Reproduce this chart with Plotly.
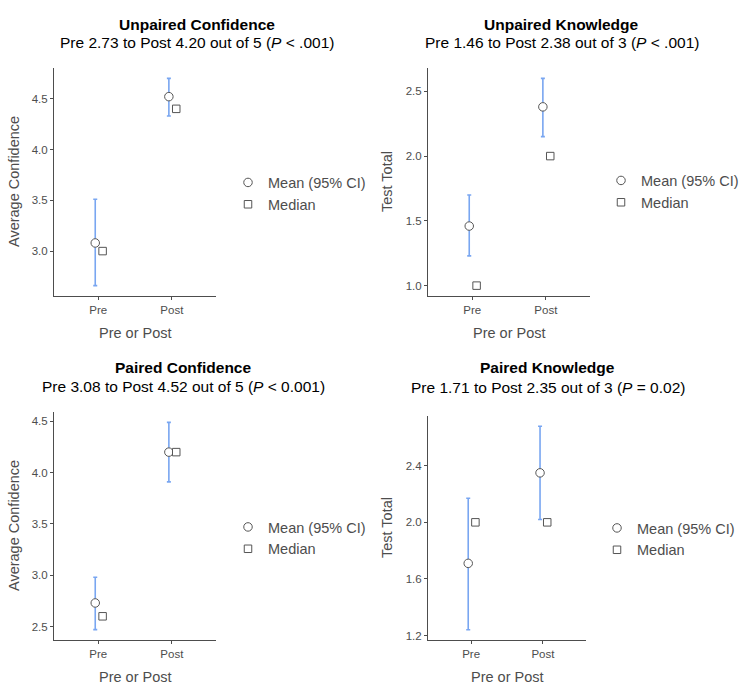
import numpy as np
import plotly.graph_objects as go

# ---------------- data ----------------
categories = ["Pre", "Post"]

uc_mean = [3.08, 4.52]
uc_lo = [2.66, 4.33]
uc_hi = [3.51, 4.70]
uc_median = [3.0, 4.4]

uk_mean = [1.46, 2.38]
uk_lo = [1.23, 2.15]
uk_hi = [1.70, 2.60]
uk_median = [1.0, 2.0]

pc_mean = [2.73, 4.20]
pc_lo = [2.47, 3.91]
pc_hi = [2.98, 4.49]
pc_median = [2.6, 4.2]

pk_mean = [1.71, 2.35]
pk_lo = [1.24, 2.02]
pk_hi = [2.17, 2.68]
pk_median = [2.0, 2.0]

titles_bold = ["Unpaired Confidence", "Unpaired Knowledge", "Paired Confidence", "Paired Knowledge"]
titles_sub = [
    "Pre 2.73 to Post 4.20 out of 5 (<i>P</i> &lt; .001)",
    "Pre 1.46 to Post 2.38 out of 3 (<i>P</i> &lt; .001)",
    "Pre 3.08 to Post 4.52 out of 5 (<i>P</i> &lt; 0.001)",
    "Pre 1.71 to Post 2.35 out of 3 (<i>P</i> = 0.02)",
]
y_titles = ["Average Confidence", "Test Total", "Average Confidence", "Test Total"]
x_title = "Pre or Post"
y_ticks = [[3.0, 3.5, 4.0, 4.5], [1.0, 1.5, 2.0, 2.5], [2.5, 3.0, 3.5, 4.0, 4.5], [1.2, 1.6, 2.0, 2.4]]

panels = [
    (uc_mean, uc_lo, uc_hi, uc_median),
    (uk_mean, uk_lo, uk_hi, uk_median),
    (pc_mean, pc_lo, pc_hi, pc_median),
    (pk_mean, pk_lo, pk_hi, pk_median),
]

# ---------------- layout geometry (pixels) ----------------
W, H = 750, 694
FONT = "Liberation Sans, Arial, Helvetica, sans-serif"
GRAY = "#4d4d4d"
AXC = "#4d4d4d"
BLUE = "#79a6f1"

# plot areas: (left, right, top, bottom)
areas = [(54, 216, 68, 296), (428, 590, 68, 296), (54, 216, 412, 640), (428, 586, 416, 640)]
title_cx = [197.5, 561.5, 183, 547.5]
title_y = [(24, 43), (24, 43), (367.3, 386.7), (367.7, 387)]
ytitle_x = [14, 387, 14, 387]
legend_pos = [(228, 193.5), (601, 191.5), (228, 538), (597, 539)]

def px(x):
    return x / W

def py(y):
    return 1 - y / H

fig = go.Figure()
x_pos = np.arange(len(categories))
mean_off, med_off = -0.04, 0.06

annotations = []
for i, (mean, lo, hi, med) in enumerate(panels):
    n = i + 1
    xa = "x" if n == 1 else f"x{n}"
    ya = "y" if n == 1 else f"y{n}"
    lg = "legend" if n == 1 else f"legend{n}"
    mean = np.array(mean)
    lo = np.array(lo)
    hi = np.array(hi)
    fig.add_trace(go.Scatter(
        x=x_pos + mean_off, y=mean, mode="markers", name="Mean (95% CI)",
        xaxis=xa, yaxis=ya, legend=lg,
        marker=dict(symbol="circle", size=8.5, color="white", line=dict(color="#555555", width=1)),
        error_y=dict(type="data", symmetric=False, array=hi - mean, arrayminus=mean - lo,
                     color=BLUE, thickness=1.6, width=2),
    ))
    fig.add_trace(go.Scatter(
        x=x_pos + med_off, y=med, mode="markers", name="Median",
        xaxis=xa, yaxis=ya, legend=lg,
        marker=dict(symbol="square", size=7.5, color="white", line=dict(color="#555555", width=1)),
    ))

    l, r, t, b = areas[i]
    allv = np.concatenate([lo, hi, np.array(med)])
    vmin, vmax = allv.min(), allv.max()
    pad = (vmax - vmin) * 0.05
    axis_common = dict(showline=True, linecolor=AXC, linewidth=1, ticks="outside", ticklen=3,
                       tickcolor=AXC, showgrid=False, zeroline=False,
                       tickfont=dict(family=FONT, size=11.5, color=GRAY))
    fig.update_layout(**{
        ("xaxis" if n == 1 else f"xaxis{n}"): dict(
            domain=[px(l), px(r)], anchor=ya, range=[-0.6, 1.6],
            tickvals=list(x_pos), ticktext=categories, **axis_common),
        ("yaxis" if n == 1 else f"yaxis{n}"): dict(
            domain=[py(b), py(t)], anchor=xa, range=[vmin - pad, vmax + pad],
            tickvals=y_ticks[i], tickformat=".1f", **axis_common),
        lg: dict(x=px(legend_pos[i][0]), y=py(legend_pos[i][1]), xanchor="left", yanchor="middle",
                 font=dict(family=FONT, size=14.5, color=GRAY), bgcolor="rgba(0,0,0,0)",
                 tracegroupgap=0),
    })

    annotations.append(dict(text=f"<b>{titles_bold[i]}</b>", x=px(title_cx[i]), y=py(title_y[i][0]),
                            xref="paper", yref="paper", showarrow=False, xanchor="center", yanchor="middle",
                            font=dict(family=FONT, size=15.5, color="black")))
    annotations.append(dict(text=titles_sub[i], x=px(title_cx[i]), y=py(title_y[i][1]),
                            xref="paper", yref="paper", showarrow=False, xanchor="center", yanchor="middle",
                            font=dict(family=FONT, size=15.5, color="black")))
    annotations.append(dict(text=y_titles[i], x=px(ytitle_x[i]), y=py((t + b) / 2), textangle=-90,
                            xref="paper", yref="paper", showarrow=False, xanchor="center", yanchor="middle",
                            font=dict(family=FONT, size=14.5, color=GRAY)))
    annotations.append(dict(text=x_title, x=px((l + r) / 2), y=py(b + 37),
                            xref="paper", yref="paper", showarrow=False, xanchor="center", yanchor="middle",
                            font=dict(family=FONT, size=14.5, color=GRAY)))

fig.update_layout(
    width=W, height=H, margin=dict(l=0, r=0, t=0, b=0),
    paper_bgcolor="white", plot_bgcolor="white",
    annotations=annotations, showlegend=True,
)

fig.write_html("out.html")
